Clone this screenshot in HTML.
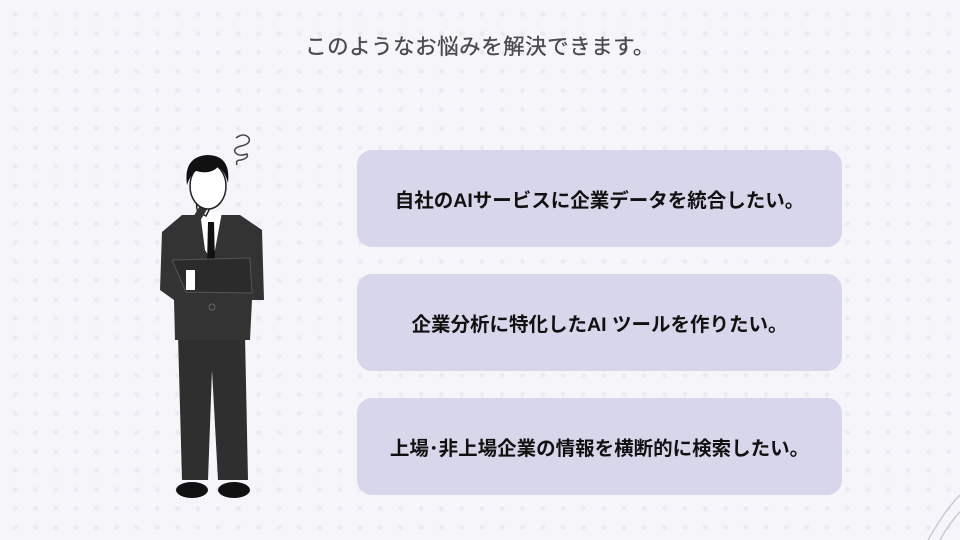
<!DOCTYPE html>
<html><head><meta charset="utf-8"><style>
html,body{margin:0;padding:0}
body{width:960px;height:540px;overflow:hidden;position:relative;background:#f6f6fa;font-family:"Liberation Sans","Noto Sans CJK JP",sans-serif}
.dots{position:absolute;inset:0;background-image:radial-gradient(circle,#ebebf3 2.2px,transparent 2.8px);background-size:20.3px 19px;background-position:5px 5px}
.title{position:absolute;top:30px;left:0;width:960px;text-align:center;font-size:21.5px;color:#4a4a4a;letter-spacing:0.5px;-webkit-text-stroke:0.3px #4a4a4a}
.box{position:absolute;left:357px;width:485px;height:97px;background:#d7d6ea;border-radius:15px;display:flex;align-items:center;justify-content:center;font-size:19.5px;font-weight:bold;color:#111}
</style></head><body>
<div class="dots"></div>
<div class="title">このようなお悩みを解決できます。</div>
<div class="box" style="top:150px">自社のAIサービスに企業データを統合したい。</div>
<div class="box" style="top:274px">企業分析に特化したAI ツールを作りたい。</div>
<div class="box" style="top:398px">上場･非上場企業の情報を横断的に検索したい。</div>
<svg style="position:absolute;left:0;top:0" width="960" height="540">
<path d="M928 540 Q945 510 960 495" stroke="#c9c9dc" fill="none" stroke-width="1.5"/>
<path d="M940 540 Q950 522 960 512" stroke="#c9c9dc" fill="none" stroke-width="1.5"/>
<path d="M236 138 q8 -6 13 0 q2 6 -8 8 q-8 2 -6 6 q3 5 12 2 q2 4 -6 6 q-6 0 -4 5" stroke="#444" fill="none" stroke-width="1.5"/>
<path d="M178 335 L245 335 L248 480 L218 480 L212 370 L208 480 L182 480 Z" fill="#2f2f2f"/>
<ellipse cx="192" cy="490" rx="16" ry="8" fill="#111"/>
<ellipse cx="234" cy="490" rx="16" ry="8" fill="#111"/>
<path d="M182 215 L240 215 L262 230 L264 300 L252 300 L250 340 L175 340 L174 300 L160 290 L162 232 Z" fill="#333"/>
<path d="M200 212 L222 212 L215 250 L210 258 L205 250 Z" fill="#fff"/>
<path d="M208 222 L214 222 L215 265 L211 275 L207 265 Z" fill="#111"/>
<path d="M172 260 L250 258 L252 293 L186 292 Z" fill="#2b2b2b" stroke="#555" stroke-width="1"/>
<path d="M186 270 L195 270 L195 290 L186 290Z" fill="#fff"/>
<circle cx="212" cy="307" r="3" fill="none" stroke="#666"/>
<path d="M198 212 q-4 -10 4 -14 q8 0 8 10 l-4 8 z" fill="#fff" stroke="#222" stroke-width="1.5"/>
<path d="M190 230 L205 205" stroke="#333" stroke-width="8"/>
<ellipse cx="208" cy="186" rx="18" ry="23" fill="#fff" stroke="#222" stroke-width="1.5"/>
<path d="M187 185 q-4 -28 20 -30 q24 0 21 28 q-3 -12 -10 -16 q-8 8 -22 4 q-6 4 -9 14 z" fill="#111"/>
</svg>
</body></html>
